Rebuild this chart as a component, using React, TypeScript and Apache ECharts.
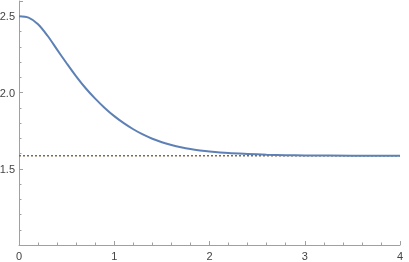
import React, { useEffect, useRef } from "react";
import * as echarts from "echarts";

const xs = [0, 0.1, 0.2, 0.3, 0.4, 0.5, 0.6, 0.7, 0.8, 0.9, 1.0, 1.1, 1.2, 1.3, 1.4, 1.5, 1.6, 1.7, 1.8, 1.9, 2.0, 2.2, 2.4, 2.6, 2.8, 3.0, 3.5, 4.0];
const ys = [2.5, 2.491, 2.448, 2.372, 2.281, 2.192, 2.106, 2.028, 1.96, 1.899, 1.845, 1.799, 1.759, 1.725, 1.697, 1.674, 1.656, 1.641, 1.629, 1.62, 1.613, 1.603, 1.597, 1.592, 1.589, 1.587, 1.586, 1.585];
const asymptoteX = [0, 4];
const asymptoteY = [1.585, 1.585];
const yLabels = [1.5, 2.0, 2.5];
const xLabels = [0, 1, 2, 3, 4];

export default function App() {
  const ref = useRef<HTMLDivElement>(null);
  useEffect(() => {
    if (!ref.current) return;
    const chart = echarts.init(ref.current, undefined, { renderer: "svg" });
    const axisColor = "#a0a0a0";
    const labelStyle = { color: "#444", fontSize: 11, fontFamily: "Liberation Sans, Arial, sans-serif" };
    chart.setOption({
      animation: false,
      grid: { left: 19, right: 9, top: 1, bottom: 17, containLabel: false, outerBoundsMode: "none" },
      xAxis: {
        type: "value",
        min: 0,
        max: 4,
        interval: 1,
        axisLine: { show: true, onZero: false, lineStyle: { color: axisColor, width: 1 } },
        axisTick: { show: true, inside: true, length: 4, lineStyle: { color: axisColor } },
        minorTick: { show: true, splitNumber: 5, length: 2.5, lineStyle: { color: axisColor } },
        splitLine: { show: false },
        axisLabel: {
          ...labelStyle,
          margin: 5,
          formatter: (v: number) => (xLabels.includes(v) ? String(v) : ""),
        },
      },
      yAxis: {
        type: "value",
        min: 1,
        max: 2.6,
        interval: 0.5,
        axisLine: { show: true, onZero: false, lineStyle: { color: axisColor, width: 1 } },
        axisTick: { show: true, inside: true, length: 4, lineStyle: { color: axisColor } },
        minorTick: { show: true, splitNumber: 5, length: 2.5, lineStyle: { color: axisColor } },
        splitLine: { show: false },
        axisLabel: {
          ...labelStyle,
          margin: 4,
          showMinLabel: false,
          showMaxLabel: false,
          formatter: (v: number) => {
            const m = yLabels.find((t) => Math.abs(t - v) < 1e-6);
            return m !== undefined ? m.toFixed(1) : "";
          },
        },
      },
      series: [
        {
          type: "line",
          data: asymptoteX.map((x, i) => [x, asymptoteY[i]]),
          showSymbol: false,
          lineStyle: { color: "#7d6a4c", width: 1.5, type: [2, 2] },
          z: 1,
        },
        {
          type: "line",
          data: xs.map((x, i) => [x, ys[i]]),
          smooth: 0.3,
          showSymbol: false,
          lineStyle: { color: "#5e81b5", width: 2 },
          z: 2,
        },
      ],
    });
    return () => chart.dispose();
  }, []);
  return <div ref={ref} style={{ position: "fixed", left: 0, top: 0, width: 409, height: 262 }} />;
}
